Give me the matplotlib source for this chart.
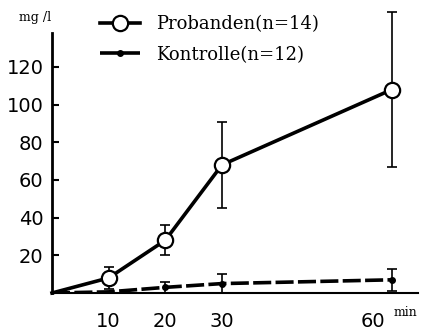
import numpy as np
import matplotlib.pyplot as plt
import matplotlib.transforms as mtransforms

# data (mg/l over minutes)
minutes = [0, 10, 20, 30, 60]
probanden = [0, 8, 28, 68, 108]
probanden_err = [0, 6, 8, 23, 41]
kontrolle = [0, 0.6, 3, 5, 7]
kontrolle_err = [0, 0, 3, 5, 6]

yticks = [20, 40, 60, 80, 100, 120]
xticks = [10, 20, 30, 60]

fig = plt.figure(figsize=(4.22, 3.36), dpi=100)
ax = fig.add_axes([52 / 422, 43 / 336, 366 / 422, 260 / 336])

# Probanden: open circles, error bars hidden behind markers
eb = ax.errorbar(minutes[1:], probanden[1:], yerr=probanden_err[1:], fmt='none',
                 ecolor='black', elinewidth=1.2, capsize=3.5, capthick=1.2, zorder=2)
for art in eb.lines[1] + eb.lines[2]:
    art.set_clip_on(False)
ln_p, = ax.plot(minutes, probanden, color='black', lw=2.6, marker='o', ms=11,
                mfc='white', mec='black', mew=1.6, markevery=[1, 2, 3, 4],
                zorder=3, label='Probanden(n=14)', clip_on=False)

# Kontrolle: dashed line with small dots
ax.errorbar(minutes[2:], kontrolle[2:], yerr=kontrolle_err[2:], fmt='none',
            ecolor='black', elinewidth=1.2, capsize=3.5, capthick=1.2, zorder=2)
ln_k, = ax.plot(minutes, kontrolle, color='black', lw=2.6, ls=(0, (5, 1.2)),
                marker='o', ms=4, markevery=[2, 3, 4], zorder=3,
                label='Kontrolle(n=12)')

ax.set_xlim(0, 64.6)
ax.set_ylim(0, 138)

for side in ['top', 'right']:
    ax.spines[side].set_visible(False)
ax.spines['left'].set_linewidth(2)
ax.spines['bottom'].set_linewidth(1.5)

ax.set_yticks(yticks)
ax.set_yticklabels([str(v) for v in yticks], fontsize=14, family='DejaVu Sans')
ax.tick_params(axis='y', direction='in', length=5, width=1.5, pad=6)

ax.set_xticks(xticks)
ax.set_xticklabels([str(v) for v in xticks], fontsize=14, family='DejaVu Sans')
ax.tick_params(axis='x', length=0, pad=14)
# the "60" label sits left of its tick to make room for "min"
shift = mtransforms.ScaledTranslation(-19 / 100, 0, fig.dpi_scale_trans)
ax.get_xticklabels()[-1].set_transform(ax.get_xticklabels()[-1].get_transform() + shift)

fig.text(405 / 422, 1 - 313 / 336, 'min', fontsize=9, family='DejaVu Serif',
         ha='center', va='center')
fig.text(35 / 422, 1 - 17 / 336, 'mg /l', fontsize=9, family='DejaVu Serif',
         ha='center', va='center')

ax.legend(handles=[ln_p, ln_k], loc='upper left',
          bbox_to_anchor=(100 / 422, 1 - 15 / 336), bbox_transform=fig.transFigure,
          frameon=False, borderpad=0, borderaxespad=0, handlelength=2.2,
          handletextpad=0.9, labelspacing=0.7,
          prop={'family': 'DejaVu Serif', 'size': 13}, markerscale=1)

fig.savefig('out.png', dpi=100)
